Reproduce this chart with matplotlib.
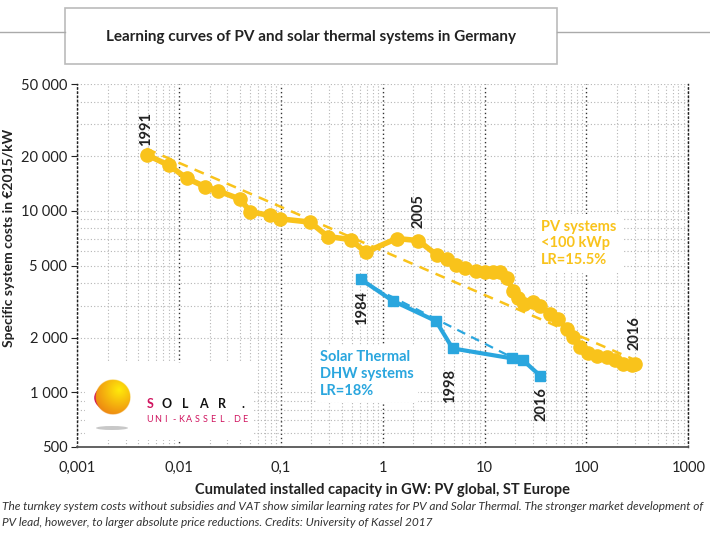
import numpy as np
import matplotlib.pyplot as plt
from matplotlib.patches import Rectangle, Circle, Ellipse
from matplotlib.lines import Line2D
from matplotlib.ticker import FixedLocator, LogLocator, NullFormatter

plt.rcParams['font.family'] = ['Lato', 'DejaVu Sans']

# PV global, cumulated capacity (GW) vs system cost (EUR2015/kW)
pv_gw = [0.0049, 0.008, 0.012, 0.018, 0.024, 0.04, 0.05, 0.078, 0.098, 0.194,
         0.29, 0.485, 0.68, 1.37, 2.24, 3.44, 4.3, 5.2, 6.4, 8.2, 10.1, 12.2,
         14.2, 16.5, 19.1, 21.4, 24.3, 29.6, 35, 43.8, 52.9, 64, 74.3, 86.3,
         104, 126, 158, 190, 230, 278, 300]
pv_cost = [20300, 17800, 15100, 13600, 12900, 11600, 9900, 9430, 9040, 8670,
           7220, 6950, 5920, 7040, 6860, 5680, 5400, 5010, 4870, 4670, 4630,
           4590, 4580, 4290, 3630, 3310, 3070, 3135, 3000, 2710, 2545, 2245,
           2020, 1780, 1640, 1585, 1560, 1508, 1434, 1416, 1440]
pv_trend_gw = [0.0048, 290]
pv_trend_cost = [22000, 1520]

# Solar thermal (DHW) Europe
st_gw = [0.608, 1.25, 3.34, 4.86, 18.5, 23.7, 35]
st_cost = [4205, 3200, 2470, 1746, 1540, 1508, 1238]
st_trend_gw = [0.6, 24]
st_trend_cost = [4120, 1450]

# year annotations: (text, x, y)
year_labels = [('1991', 0.0048, 28400), ('2005', 2.27, 10000),
               ('1984', 0.626, 2900), ('1998', 4.57, 1090),
               ('2016', 36.3, 867), ('2016', 299, 2115)]

y_ticks = [500, 1000, 2000, 5000, 10000, 20000, 50000]
y_ticklabels = ['500', '1 000', '2 000', '5 000', '10 000', '20 000', '50 000']
x_ticks = [0.001, 0.01, 0.1, 1, 10, 100, 1000]
x_ticklabels = ['0,001', '0,01', '0,1', '1', '10', '100', '1000']

yellow = '#F9C31B'
blue = '#2AA6DE'
magenta = '#D0145F'
W, H = 710, 535

fig = plt.figure(figsize=(7.1, 5.35), dpi=100)
ax = fig.add_axes([77 / W, 1 - 447 / H, (688.3 - 77) / W, (447 - 84) / H])
ax.set_xscale('log')
ax.set_yscale('log')
ax.set_xlim(0.001, 1000)
ax.set_ylim(500, 50000)

ax.yaxis.set_major_locator(FixedLocator(y_ticks))
ax.set_yticklabels(y_ticklabels)
ax.yaxis.set_minor_locator(LogLocator(base=10, subs=np.arange(2, 10)))
ax.yaxis.set_minor_formatter(NullFormatter())
ax.xaxis.set_major_locator(FixedLocator(x_ticks))
ax.set_xticklabels(x_ticklabels)
ax.xaxis.set_minor_locator(LogLocator(base=10, subs=np.arange(2, 10)))
ax.xaxis.set_minor_formatter(NullFormatter())

ax.tick_params(axis='both', which='both', labelsize=10.5, colors='#222')
ax.tick_params(axis='x', which='both', length=0, pad=10)
ax.tick_params(axis='y', which='major', length=4, width=0.8, pad=3)
ax.tick_params(axis='y', which='minor', length=0)

dot = (0, (1, 2))
ax.grid(which='minor', axis='both', color='#b5b5b5', ls=dot, lw=0.8)
ax.yaxis.grid(which='major', color='#b5b5b5', ls=dot, lw=0.8)
ax.xaxis.grid(which='major', color='#333333', ls=dot, lw=1.0)
ax.set_axisbelow(True)

for s in ['left', 'right']:
    ax.spines[s].set_linestyle(dot)
    ax.spines[s].set_color('#222')
    ax.spines[s].set_linewidth(1.0)
ax.spines['top'].set_visible(False)
ax.spines['bottom'].set_color('#555')
ax.spines['bottom'].set_linewidth(1.3)

# trend lines
ax.plot(pv_trend_gw, pv_trend_cost, color=yellow, ls=(0, (4, 3)), lw=1.8, zorder=3)
ax.plot(st_trend_gw, st_trend_cost, color=blue, ls=(0, (4, 3)), lw=1.6, zorder=3)

# curves
ax.plot(pv_gw, pv_cost, color=yellow, lw=4, marker='o', ms=9.5, zorder=4)
ax.plot(st_gw, st_cost, color=blue, lw=3, marker='s', ms=6.5, zorder=4)

for txt, x, y in year_labels:
    ax.text(x, y, txt, rotation=90, ha='center', va='center', fontsize=10.5,
            fontweight='bold', color='#222', zorder=5)

ax.text(36, 8950, 'PV systems\n<100 kWp\nLR=15.5%', color=yellow, fontsize=10.5,
        fontweight='bold', ha='left', va='top', linespacing=1.25, zorder=5,
        bbox=dict(facecolor='white', edgecolor='none', pad=4))
ax.text(0.243, 1710, 'Solar Thermal\nDHW systems\nLR=18%', color=blue, fontsize=10.5,
        fontweight='bold', ha='left', va='top', linespacing=1.25, zorder=5,
        bbox=dict(facecolor='white', edgecolor='none', pad=3))

ax.set_xlabel('Cumulated installed capacity in GW: PV global, ST Europe',
              fontsize=10.5, fontweight='bold', color='#222', labelpad=6)
ax.set_ylabel('Specific system costs in €2015/kW', fontsize=10,
              fontweight='bold', color='#222')
ax.yaxis.set_label_coords((15 - 77) / (688.3 - 77), (447 - 238) / (447 - 84))


def px(x, y):
    return x / W, 1 - y / H


# title box
fig.add_artist(Line2D([0, 65 / W], [1 - 31.7 / H] * 2, color='#aaa', lw=1))
fig.add_artist(Line2D([557 / W, 1], [1 - 31.7 / H] * 2, color='#aaa', lw=1))
fig.add_artist(Rectangle(px(65, 64), (557 - 65) / W, 56 / H, facecolor='white',
                         edgecolor='#bbb', lw=1.2))
fig.text(311 / W, 1 - 37 / H, 'Learning curves of PV and solar thermal systems in Germany',
         ha='center', va='center', fontsize=11, fontweight='bold', color='#222')

# logo area
fig.add_artist(Rectangle(px(85, 440), 168 / W, 77 / H, facecolor='white',
                         edgecolor='none', zorder=2))
fig.add_artist(Ellipse(px(112, 428), 32 / W, 4 / H, facecolor='#c8c8c8',
                       edgecolor='none', zorder=3))
fig.add_artist(Circle(px(112, 397.8), 17.8 / W, facecolor=magenta, edgecolor='none',
                      zorder=3))
sx = fig.add_axes([(112.7 - 18) / W, 1 - (396.7 + 18) / H, 36 / W, 36 / H], zorder=4)
g = np.linspace(-1, 1, 200)
gx, gy = np.meshgrid(g, g)
r = np.hypot(gx, gy)
d = np.clip(np.hypot(gx - 0.35, gy - 0.4) / 1.6, 0, 1)
c0 = np.array([255, 235, 10]) / 255
c1 = np.array([236, 128, 18]) / 255
img = np.zeros((200, 200, 4))
img[..., :3] = c0 + (c1 - c0) * d[..., None]
img[..., 3] = (r <= 0.97).astype(float)
sx.imshow(img, origin='lower', extent=[-1, 1, -1, 1], interpolation='bilinear')
sx.axis('off')

for ch, xx in zip('SOLAR.', [150, 167, 185, 203, 222, 243]):
    fig.text(xx / W, 1 - 404 / H, ch, ha='center', va='center', fontsize=9,
             fontweight='bold', color=magenta if ch == 'S' else '#111', zorder=5)
for i, ch in enumerate('UNI-KASSEL.DE'):
    fig.text((150 + i * 7.9) / W, 1 - 420 / H, ch, ha='center', va='center',
             fontsize=6.5, color=magenta, zorder=5)

fig.text(2 / W, 1 - 507 / H,
         'The turnkey system costs without subsidies and VAT show similar learning rates for PV '
         'and Solar Thermal. The stronger market development of',
         ha='left', va='center', fontsize=8.6, style='italic', color='#333')
fig.text(2 / W, 1 - 523 / H,
         'PV lead, however, to larger absolute price reductions. Credits: University of Kassel 2017',
         ha='left', va='center', fontsize=8.6, style='italic', color='#333')

fig.savefig('out.png', dpi=100)
